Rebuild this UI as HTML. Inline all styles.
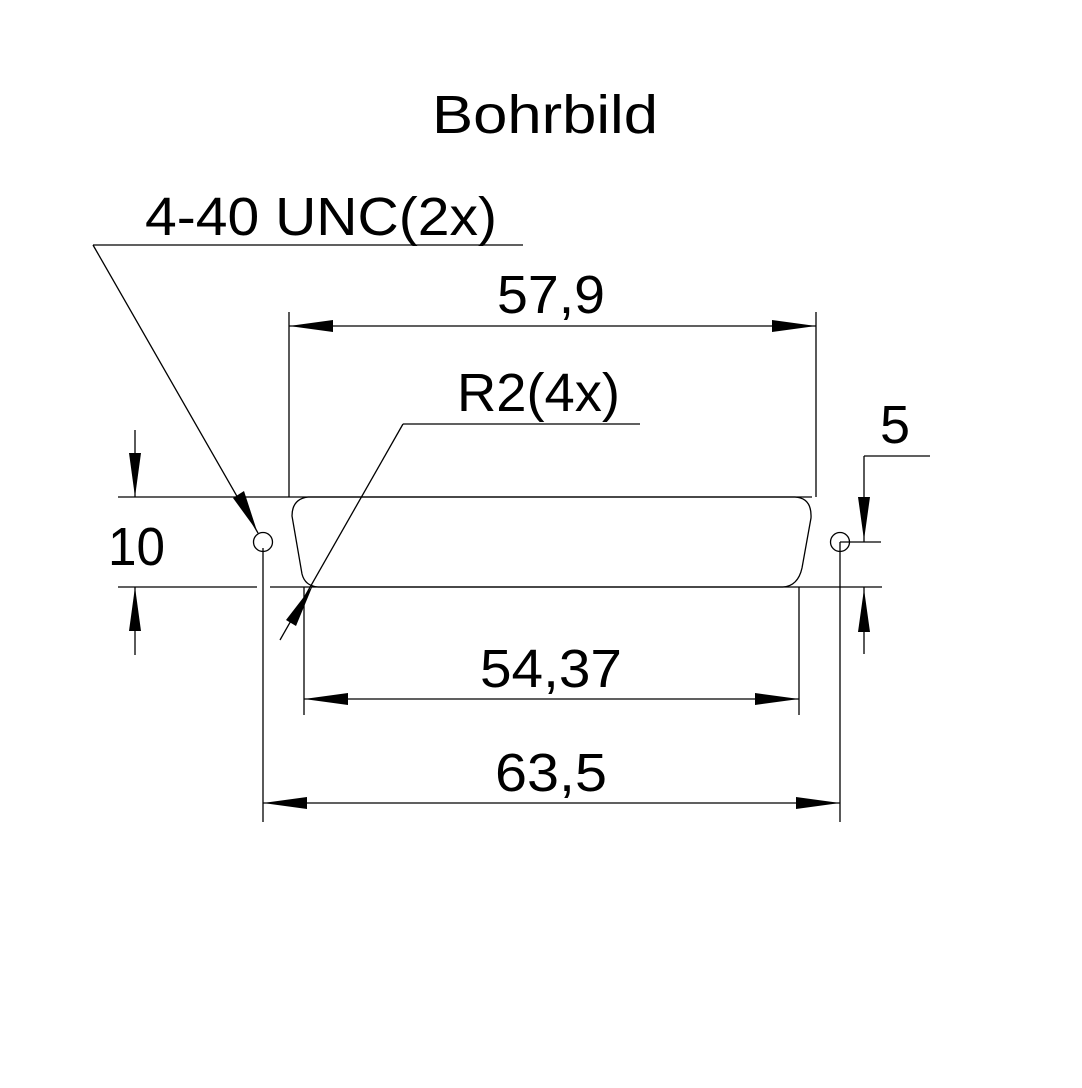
<!DOCTYPE html>
<html><head><style>html,body{margin:0;padding:0;background:#fff}</style></head><body>
<svg width="1082" height="1083" viewBox="0 0 1082 1083" xmlns="http://www.w3.org/2000/svg">
<rect width="1082" height="1083" fill="#fff"/>
<g stroke="#000" stroke-width="1.3" fill="none">
<line x1="118" y1="497" x2="812" y2="497"/>
<line x1="118" y1="587" x2="257" y2="587"/>
<line x1="270" y1="587" x2="882" y2="587"/>
<path d="M308,497 L795,497 Q812,498 811,518 L802,568 Q798,586 783,587 L318,587 Q305,586 302,574 L292,516 Q292,499 308,497 Z"/>
<circle cx="263" cy="542" r="9.5"/>
<circle cx="840" cy="542" r="9.5"/>
<line x1="263" y1="548" x2="263" y2="822"/>
<line x1="840" y1="542" x2="840" y2="822"/>
<line x1="840" y1="542" x2="881" y2="542"/>
<line x1="289" y1="312" x2="289" y2="497"/>
<line x1="816" y1="312" x2="816" y2="497"/>
<line x1="289" y1="326" x2="816" y2="326"/>
<line x1="304" y1="587" x2="304" y2="715"/>
<line x1="799" y1="587" x2="799" y2="715"/>
<line x1="304" y1="699" x2="799" y2="699"/>
<line x1="263" y1="803" x2="840" y2="803"/>
<line x1="135" y1="430" x2="135" y2="497"/>
<line x1="135" y1="587" x2="135" y2="655"/>
<line x1="864" y1="456" x2="930" y2="456"/>
<line x1="864" y1="456" x2="864" y2="542"/>
<line x1="864" y1="587" x2="864" y2="654"/>
<line x1="93" y1="245" x2="523" y2="245"/>
<line x1="93" y1="245" x2="258" y2="533"/>
<line x1="403" y1="424" x2="640" y2="424"/>
<line x1="403" y1="424" x2="280" y2="640"/>
</g>
<g fill="#000">
<polygon points="289,326 333,320 333,332"/>
<polygon points="816,326 772,320 772,332"/>
<polygon points="304,699 348,693 348,705"/>
<polygon points="799,699 755,693 755,705"/>
<polygon points="263,803 307,797 307,809"/>
<polygon points="840,803 796,797 796,809"/>
<polygon points="135,497 129,453 141,453"/>
<polygon points="135,587 129,631 141,631"/>
<polygon points="864,540 858,497 870,497"/>
<polygon points="864,589 858,632 870,632"/>
<polygon points="257,531 233,498 244,491"/>
<polygon points="313,585 296,626 286,620"/>
</g>
<g font-family="Liberation Sans, sans-serif" font-size="54" fill="#000" lengthAdjust="spacingAndGlyphs">
<text x="432" y="133" textLength="226" lengthAdjust="spacingAndGlyphs">Bohrbild</text>
<text x="145" y="235" textLength="352" lengthAdjust="spacingAndGlyphs">4-40 UNC(2x)</text>
<text x="497" y="313" textLength="108" lengthAdjust="spacingAndGlyphs">57,9</text>
<text x="457" y="411" textLength="163" lengthAdjust="spacingAndGlyphs">R2(4x)</text>
<text x="880" y="443">5</text>
<text x="108" y="565" textLength="57" lengthAdjust="spacingAndGlyphs">10</text>
<text x="480" y="687" textLength="142" lengthAdjust="spacingAndGlyphs">54,37</text>
<text x="495" y="791" textLength="112" lengthAdjust="spacingAndGlyphs">63,5</text>
</g>
</svg>
</body></html>
